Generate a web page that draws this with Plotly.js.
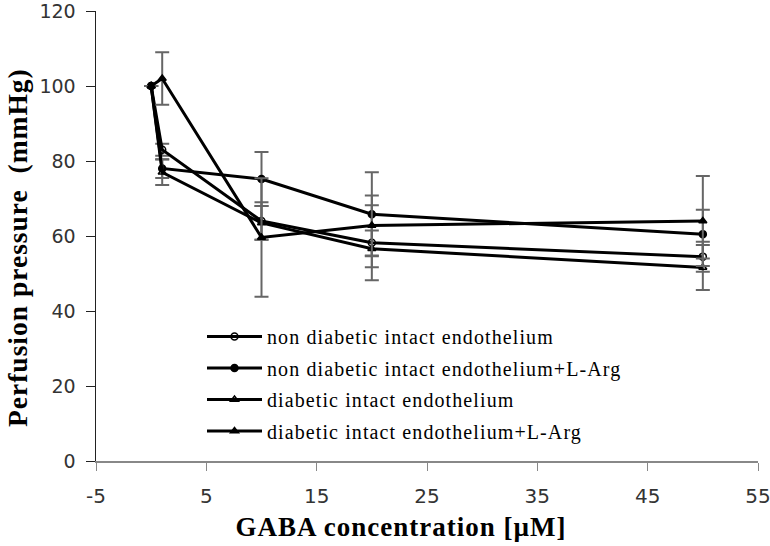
<!DOCTYPE html>
<html>
<head>
<meta charset="utf-8">
<script src="https://cdn.plot.ly/plotly-3.0.1.min.js"></script>
<style>
html,body{margin:0;padding:0;background:#fff;}
#chart{width:770px;height:546px;}
.legendtext{letter-spacing:1.1px;}
.spaced text{letter-spacing:1px;}
</style>
</head>
<body>
<div id="chart"></div>
<script>
// GABA concentration (µM)
const conc = [0, 1, 10, 20, 50];

const seriesNames = [
  "non diabetic intact endothelium",
  "non diabetic intact endothelium+L-Arg",
  "diabetic intact endothelium",
  "diabetic intact endothelium+L-Arg"
];

// Perfusion pressure (mmHg)
const nonDiabetic        = [100, 83, 64, 58.2, 54.5];
const nonDiabeticLArg    = [100, 78, 75.2, 65.8, 60.5];
const diabetic           = [100, 77, 63.5, 56.6, 51.6];
const diabeticLArg       = [100, 102, 59.6, 62.8, 64];

// error (±)
const nonDiabeticErr     = [0, 1.6, 5, 10, 4];
const nonDiabeticLArgErr = [0, 2.5, 7.2, 11.2, 6.5];
const diabeticErr        = [0, 3.4, 4.5, 4.9, 6];
const diabeticLArgErr    = [0, 7, 15.8, 8, 12];

// axis tick labels
const xTickVals = [-5, 5, 15, 25, 35, 45, 55];
const xTickText = ["-5", "5", "15", "25", "35", "45", "55"];
const yTickVals = [0, 20, 40, 60, 80, 100, 120];

const values = [nonDiabetic, nonDiabeticLArg, diabetic, diabeticLArg];
const errs = [nonDiabeticErr, nonDiabeticLArgErr, diabeticErr, diabeticLArgErr];
const symbols = ["circle-open", "circle", "triangle-up-open", "triangle-up"];

const traces = values.map((v, i) => ({
  type: "scatter",
  mode: "lines+markers",
  x: conc,
  y: v,
  name: seriesNames[i],
  legendgroup: "g" + i,
  line: {color: "#000", width: 3},
  marker: {symbol: symbols[i], size: 7, color: "#000",
           line: {color: "#000", width: 1.5}},
  error_y: {type: "data", array: errs[i], visible: true, color: "#666", thickness: 2, width: 7}
}));

const serif = "Liberation Serif, Times New Roman, serif";
const sans = "DejaVu Sans, Verdana, sans-serif";

const layout = {
  width: 770, height: 546,
  margin: {l: 96, r: 12, t: 11, b: 85},
  paper_bgcolor: "#fff", plot_bgcolor: "#fff",
  showlegend: true,
  legend: {
    x: (202 - 96) / 662, y: 0.32, xanchor: "left", yanchor: "top",
    bgcolor: "rgba(0,0,0,0)",
    font: {family: serif, size: 20, color: "#000"},
    itemwidth: 55, tracegroupgap: 2.5, traceorder: "grouped"
  },
  xaxis: {
    range: [-5, 55], tickmode: "array", tickvals: xTickVals, ticktext: xTickText,
    showgrid: false, zeroline: false,
    showline: true, linecolor: "#888", linewidth: 1.5,
    ticks: "outside", ticklen: 8, tickcolor: "#888",
    ticklabelstandoff: 8, ticklabeloverflow: "allow",
    tickfont: {family: sans, size: 20, color: "#333"}
  },
  yaxis: {
    range: [0, 120], tickmode: "array", tickvals: yTickVals,
    showgrid: false, zeroline: false,
    showline: true, linecolor: "#222", linewidth: 1.5,
    ticks: "outside", ticklen: 9, tickcolor: "#222",
    ticklabelstandoff: 6, ticklabeloverflow: "allow",
    tickfont: {family: sans, size: 19, color: "#333"}
  },
  annotations: [{
    text: "<b>GABA concentration [µM]</b>",
    xref: "paper", yref: "paper", x: (401 - 96) / 662, y: -(527 - 461) / 450,
    xanchor: "center", yanchor: "middle", showarrow: false,
    font: {family: serif, size: 27, color: "#000"}
  }, {
    text: "<b>Perfusion pressure  (mmHg)</b>",
    xref: "paper", yref: "paper", x: -(96 - 18) / 662, y: (461 - 248) / 450,
    xanchor: "center", yanchor: "middle", showarrow: false, textangle: -90,
    font: {family: serif, size: 27.5, color: "#000"}
  }]
};

Plotly.newPlot("chart", traces, layout, {displayModeBar: false, staticPlot: true}).then(() => {
  document.querySelectorAll(".annotation").forEach(a => a.classList.add("spaced"));
});
</script>
</body>
</html>
